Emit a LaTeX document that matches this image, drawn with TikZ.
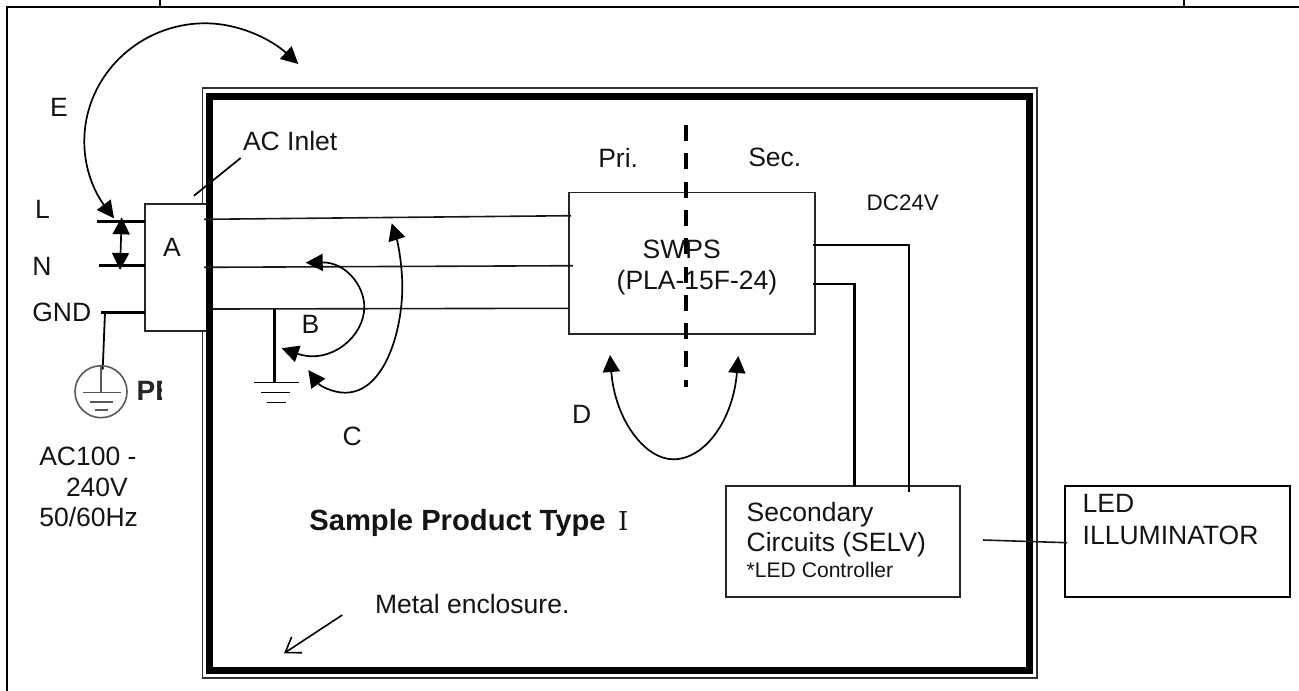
\documentclass[tikz,border=0pt]{standalone}
\usepackage{fontspec}
\setmainfont{Liberation Sans}
\newfontfamily\romanfont{DejaVu Serif}
\usetikzlibrary{arrows.meta}
\tikzset{
  txt/.style={inner sep=0pt,outer sep=0pt,font=\fontsize{26.5}{30}\selectfont,text=black!92,anchor=base west},
  boxed/.style={draw=black!85,line width=1.7pt,fill=white,inner sep=0pt,outer sep=0pt},
  wire/.style={line width=1.6pt,black!90},
  heavywire/.style={line width=2.8pt},
  tipped/.style={-{Triangle[length=17pt,width=17pt]},line width=1.7pt},
  bitipped/.style={{Triangle[length=17pt,width=17pt]}-{Triangle[length=17pt,width=17pt]},line width=1.7pt},
  pegray/.style={line width=1.6pt,black!65},
}
\begin{document}
\begin{tikzpicture}[x=1pt,y=-1pt]
\useasboundingbox (0,0) rectangle (1299,691);
% table rules
\coordinate (tl) at (6.5,6.5);
\coordinate (tbl) at (6.5,691);
\coordinate (ttr) at (1299,6.5);
\coordinate (t1t) at (160,0);
\coordinate (t1b) at (160,6.5);
\coordinate (t2t) at (1184,0);
\coordinate (t2b) at (1184,6.5);
\draw[line width=2pt] (tbl) -- (tl) -- (ttr);
\draw[line width=2pt] (t1t) -- (t1b) (t2t) -- (t2b);
% enclosure
\draw[line width=1.7pt,black!80] (202.5,88) rectangle (1037,678);
% inlet box
\node[boxed,minimum width=62pt,minimum height=126.7pt] (inlet) at (176,267.3) {};
\draw[line width=7pt] (209.4,96) rectangle (1029.5,670.5);
% power terminals
\coordinate (Lend) at (97,221.3);
\coordinate (Lbox) at (145,221.3);
\coordinate (Nend) at (99,265.7);
\coordinate (Nbox) at (145,265.7);
\coordinate (Gend) at (101,312.3);
\coordinate (Gbox) at (145,312.3);
\draw[heavywire] (Lend) -- (Lbox);
\draw[heavywire] (Nend) -- (Nbox);
\draw[heavywire] (Gend) -- (Gbox);
\coordinate (lnTop) at (121.7,217.3);
\coordinate (lnBot) at (120,270);
\draw[bitipped] (lnTop) -- (lnBot);
% PE symbol
\coordinate (peTap) at (105,312.3);
\coordinate (peIn) at (102.7,369.5);
\draw[line width=1.8pt] (peTap) -- (peIn);
\draw[pegray] (101,391.7) circle (26);
\draw[pegray] (101,366) -- (101,392.3) (83,392.3) -- (120.7,392.3) (90,401.7) -- (113,401.7) (95,410) -- (108,410);
\begin{scope}
\clip (130,370) rectangle (161.7,410);
\node[txt,font=\fontsize{28}{30}\bfseries\selectfont,text=black!85] (pe) at (136.7,400) {PE};
\end{scope}
% inlet leader
\coordinate (leadA) at (240.7,158);
\coordinate (leadB) at (194,195.7);
\draw[line width=1.7pt] (leadA) -- (leadB);
% SWPS
\node[boxed,minimum width=245.7pt,minimum height=141.7pt] (swps) at (691.9,263.2) {};
\coordinate (w1a) at (204,219.3);
\coordinate (w1b) at (571,215.7);
\coordinate (w2a) at (204,267.3);
\coordinate (w2b) at (573,265.7);
\coordinate (w3a) at (212,309);
\coordinate (w3b) at (569,308.3);
\draw[wire] (w1a) -- (w1b);
\draw[wire] (w2a) -- (w2b);
\draw[wire] (w3a) -- (w3b);
% protective earth inside
\coordinate (gTop) at (274.3,309);
\coordinate (gBot) at (274.3,382.7);
\draw[heavywire] (gTop) -- (gBot);
\draw[line width=1.5pt] (254,382.7) -- (299,382.7) (261,392.7) -- (290,392.7) (267.3,402.7) -- (286,402.7);
% barrier
\coordinate (barT) at (686,125);
\coordinate (barB) at (686,386.7);
\draw[line width=4pt,dash pattern=on 16pt off 12.3pt] (barT) -- (barB);
% secondary boxes
\node[boxed,minimum width=234pt,minimum height=110.7pt] (sec) at (843,541.3) {};
\node[boxed,line width=2pt,draw=black,minimum width=225pt,minimum height=111pt] (led) at (1177.5,541.2) {};
\coordinate (o1) at (812.7,245);
\coordinate (o1c) at (909,245);
\coordinate (o1e) at (909,491.7);
\coordinate (o2) at (812.7,283.7);
\coordinate (o2c) at (853,283.7);
\coordinate (o2v) at (854.3,283);
\coordinate (o2e) at (854.3,486);
\draw[line width=1.7pt] (o1) -- (o1c) -- (o1e);
\draw[line width=1.7pt] (o2) -- (o2c);
\draw[heavywire] (o2v) -- (o2e);
\coordinate (ledA) at (983,540);
\coordinate (ledB) at (1067,542.7);
\draw[wire] (ledA) -- (ledB);
% insulation arrows
\draw[bitipped] (114,218.3) .. controls (95,193) and (84.3,170) .. (84.3,141.7) .. controls (84.3,75) and (140,23.3) .. (205,23.3) .. controls (240,23.3) and (272,40) .. (298.3,64);
\draw[bitipped] (305.7,262.7) .. controls (345,262) and (364.3,285) .. (364.3,307) .. controls (364.3,337) and (330,365) .. (281.7,348.3);
\draw[bitipped] (308.3,370) .. controls (320,386) and (333,392.7) .. (345,392.7) .. controls (385,392.7) and (402.3,330) .. (402.3,287) .. controls (402.3,265) and (398,243) .. (391.7,223.3);
\draw[bitipped] (610,355) .. controls (615,420) and (645,459.3) .. (673.3,459.3) .. controls (705,459.3) and (733,420) .. (738.3,356);
\coordinate (mA) at (342.3,615);
\coordinate (mB) at (284,653.3);
\draw[line width=1.6pt,-{Straight Barb[length=14pt,width=19pt,line width=1.6pt]}] (mA) -- (mB);
% labels
\node[txt] (tE) at (50,116.7) {E};
\node[txt] (tAC) at (243,150) {AC Inlet};
\node[txt] (tL) at (35,218.3) {L};
\node[txt] (tN) at (32.3,275.7) {N};
\node[txt] (tG) at (32.3,321.7) {GND};
\node[txt] (tA) at (163,256.7) {A};
\node[txt] (tB) at (301.7,333.3) {B};
\node[txt] (tC) at (342.7,445) {C};
\node[txt] (tD) at (572,423) {D};
\node[txt] (tPri) at (598.3,167.7) {Pri.};
\node[txt] (tSec) at (748.3,166.7) {Sec.};
\node[txt,font=\fontsize{22.4}{26}\selectfont] (tDC) at (866.7,210.7) {DC24V};
\node[txt] (tSW) at (642.7,258.3) {SWPS};
\node[txt] (tPLA) at (616.7,289.3) {(PLA-15F-24)};
\node[txt] (tAC1) at (39.3,465) {AC100 -};
\node[txt] (tAC2) at (66,496.7) {240V};
\node[txt] (tAC3) at (39.3,526.7) {50/60Hz};
\node[txt,font=\fontsize{29.2}{32}\bfseries\selectfont] (tSample) at (309.3,530) {Sample Product Type};
\node[txt,font=\fontsize{26}{32}\romanfont] (tOne) at (618,530) {Ⅰ};
\node[txt] (tMetal) at (375,613) {Metal enclosure.};
\node[txt] (tSec1) at (746.7,521.7) {Secondary};
\node[txt] (tSec2) at (746.7,551.7) {Circuits (SELV)};
\node[txt,font=\fontsize{21.1}{25}\selectfont] (tSec3) at (746.7,577.7) {*LED Controller};
\node[txt] (tLed1) at (1082.7,512.7) {LED};
\node[txt] (tLed2) at (1082.7,544) {ILLUMINATOR};
\end{tikzpicture}
\end{document}
